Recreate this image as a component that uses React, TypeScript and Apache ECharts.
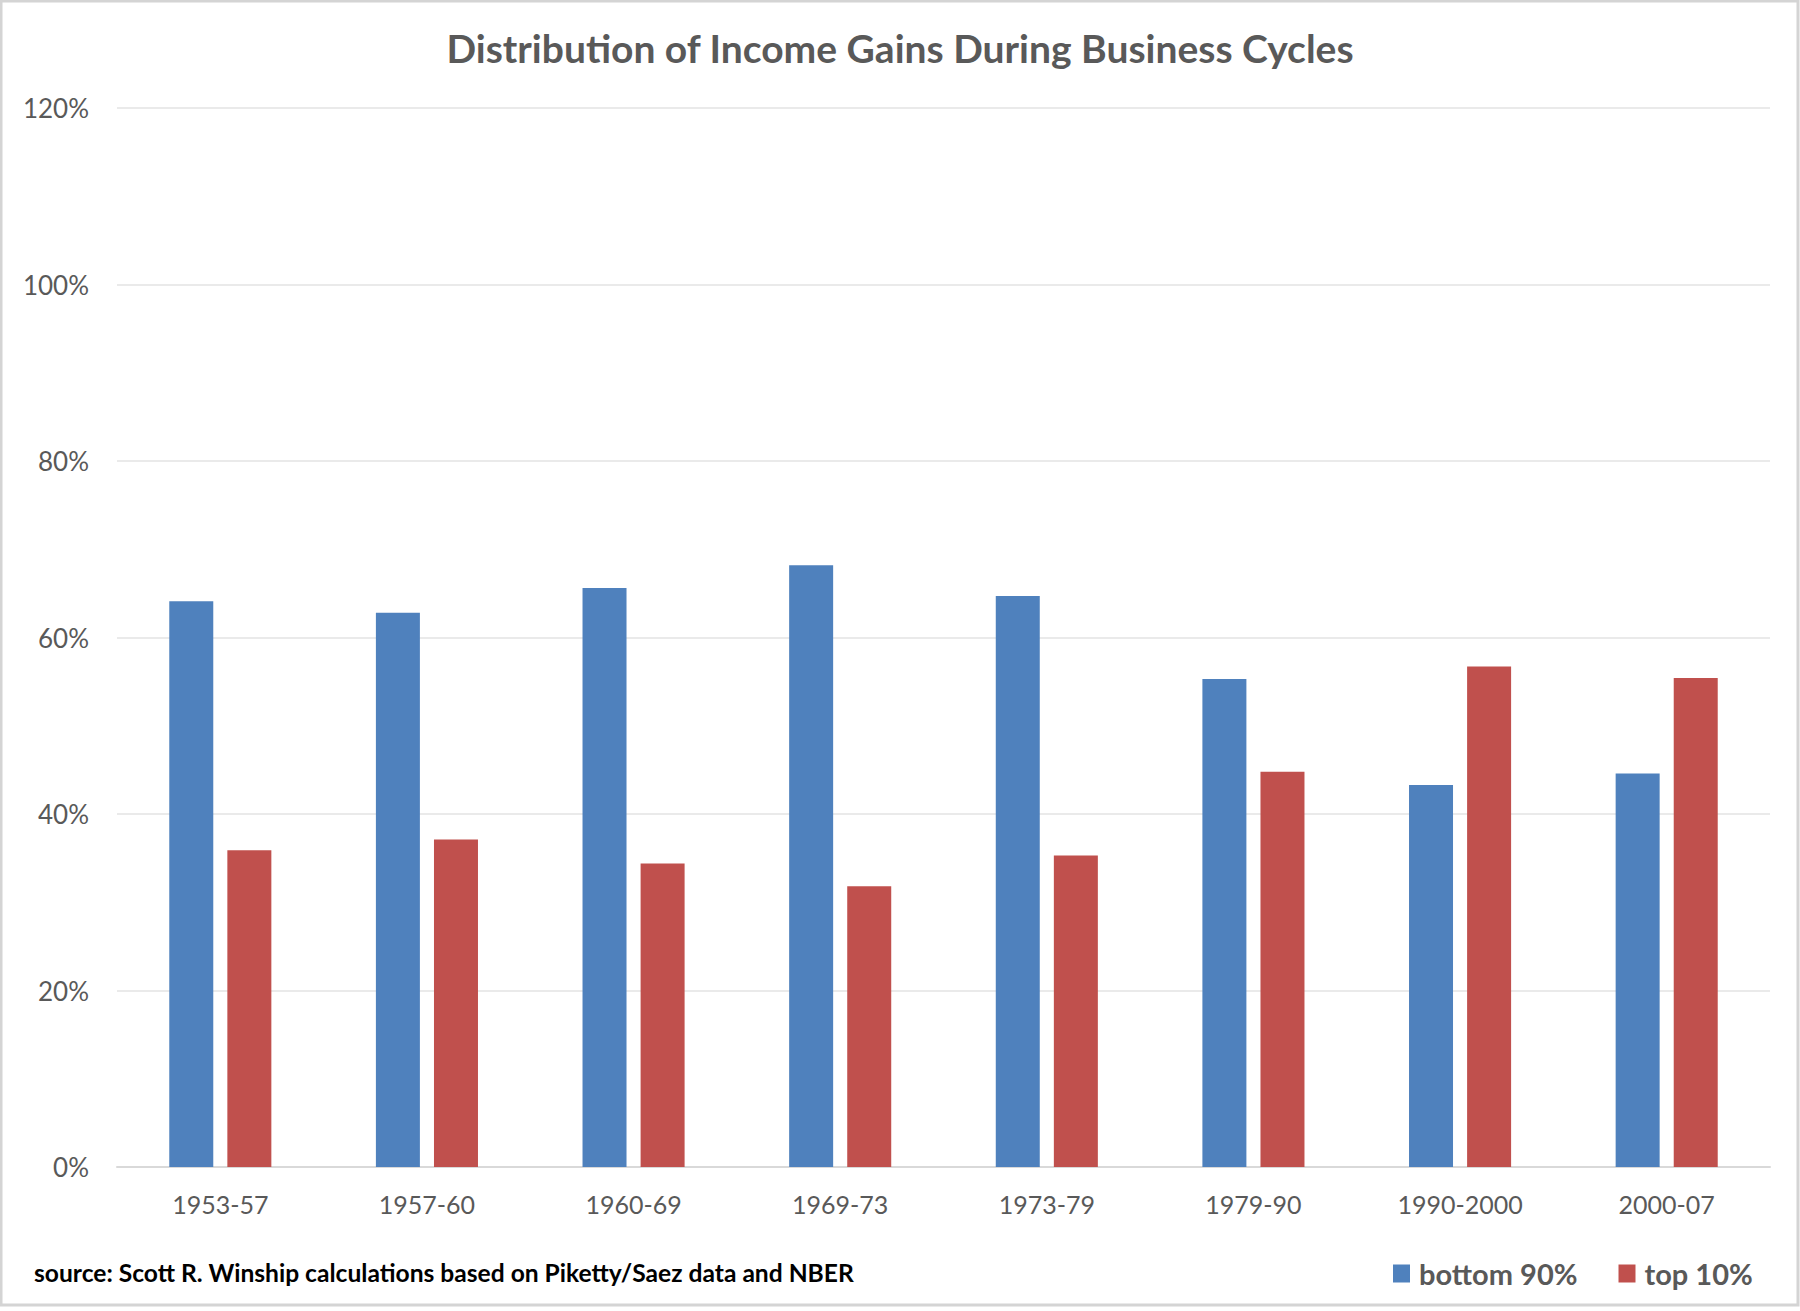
import React, { useEffect, useRef } from "react";
import * as echarts from "echarts";

const categories = ["1953-57", "1957-60", "1960-69", "1969-73", "1973-79", "1979-90", "1990-2000", "2000-07"];
const bottom90 = [64.1, 62.8, 65.6, 68.2, 64.7, 55.3, 43.3, 44.6];
const top10 = [35.9, 37.1, 34.4, 31.8, 35.3, 44.8, 56.7, 55.4];
const yTicks = [0, 20, 40, 60, 80, 100, 120];

const FONT = "Lato, 'Noto Sans', sans-serif";
const TEXT = "#595959";

export default function App() {
  const ref = useRef<HTMLDivElement>(null);
  useEffect(() => {
    if (!ref.current) return;
    const chart = echarts.init(ref.current, undefined, { renderer: "svg" });
    chart.setOption({
      animation: false,
      backgroundColor: "#ffffff",
      textStyle: { fontFamily: FONT },
      title: {
        text: "Distribution of Income Gains During Business Cycles",
        left: "center",
        top: 23,
        textStyle: { fontFamily: FONT, fontSize: 39, fontWeight: "bold", color: TEXT },
      },
      grid: { left: 117, right: 30, top: 108, bottom: 144, containLabel: false },
      xAxis: {
        type: "category",
        data: categories,
        axisLine: { show: true, lineStyle: { color: "#d9d9d9", width: 2 } },
        axisTick: { show: false },
        axisLabel: { color: TEXT, fontSize: 25, fontFamily: FONT, margin: 24 },
      },
      yAxis: {
        type: "value",
        min: yTicks[0],
        max: yTicks[yTicks.length - 1],
        interval: 20,
        axisLine: { show: false },
        axisTick: { show: false },
        splitLine: { lineStyle: { color: "#e3e3e3", width: 1.5 } },
        axisLabel: { color: TEXT, fontSize: 26, fontFamily: FONT, margin: 28, formatter: "{value}%" },
      },
      legend: {
        left: 1388,
        top: 1254,
        icon: "rect",
        itemWidth: 17,
        itemHeight: 18,
        itemGap: 41,
        textStyle: { fontFamily: FONT, fontSize: 29, fontWeight: "bold", color: TEXT, padding: [0, 0, 0, 4] },
        data: ["bottom 90%", "top 10%"],
      },
      graphic: [
        {
          type: "text",
          left: 34,
          top: 1260,
          style: {
            text: "source: Scott R. Winship calculations based on Piketty/Saez data and NBER",
            fontFamily: FONT,
            fontSize: 24.6,
            fontWeight: "bold",
            fill: "#000000",
          },
        },
        {
          type: "rect",
          shape: { x: 1, y: 1, width: 1797, height: 1304 },
          style: { fill: "none", stroke: "#d4d4d4", lineWidth: 3 },
          silent: true,
        },
      ],
      series: [
        {
          name: "bottom 90%",
          type: "bar",
          data: bottom90,
          barWidth: 44,
          barGap: "32%",
          itemStyle: { color: "#4F81BD" },
        },
        {
          name: "top 10%",
          type: "bar",
          data: top10,
          barWidth: 44,
          barGap: "32%",
          itemStyle: { color: "#C0504D" },
        },
      ],
    });
    return () => chart.dispose();
  }, []);
  return (
    <div
      ref={ref}
      style={{ position: "absolute", left: 0, top: 0, width: 1800, height: 1311 }}
    />
  );
}
